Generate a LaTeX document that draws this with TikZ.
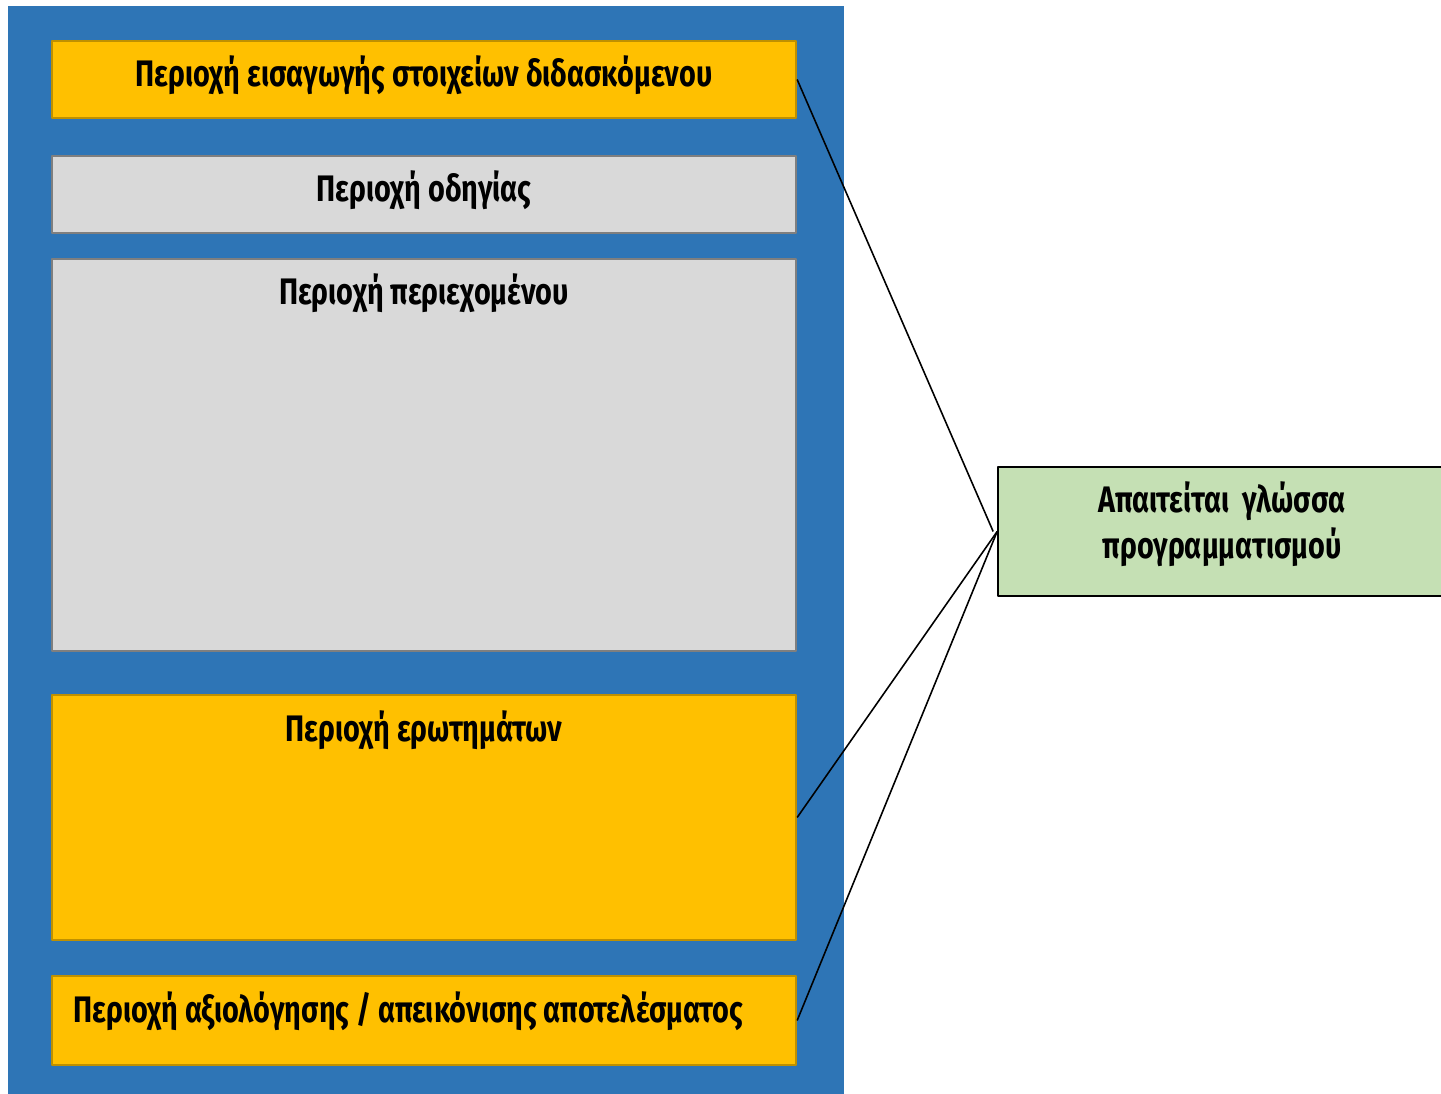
\documentclass[tikz,border=0pt]{standalone}
\usepackage{fontspec}
\setmainfont{Fira Sans}[FakeStretch=0.78]
\usetikzlibrary{positioning}
\definecolor{panelblue}{HTML}{2E75B6}
\definecolor{areayellow}{HTML}{FFC000}
\definecolor{areayellowline}{HTML}{BF9000}
\definecolor{areagrey}{HTML}{D9D9D9}
\definecolor{areagreyline}{HTML}{7F7F7F}
\definecolor{notegreen}{HTML}{C5E0B4}
\tikzset{
  areatext/.style={font=\bfseries\fontsize{21}{26}\selectfont,inner sep=0pt},
  areabox/.style={minimum width=14.88cm,inner sep=0pt,line width=1.4pt},
  yellowbox/.style={areabox,fill=areayellow,draw=areayellowline},
  greybox/.style={areabox,fill=areagrey,draw=areagreyline},
  notebox/.style={draw=black,fill=notegreen,line width=1pt,minimum width=8.96cm,minimum height=2.58cm,inner sep=0pt}
}
\begin{document}
\begin{tikzpicture}[x=0.02cm,y=-0.02cm,line join=round]
    \useasboundingbox (0,0) rectangle (1441,1094);
    % page panel
    \fill[panelblue] (8,6) rectangle (844,1094);
    % areas of the page
    \node[yellowbox,minimum height=1.54cm] (intro) at (424,79.5) {};
    \node[areatext] (introtext) at (424,75) {Περιοχή εισαγωγής στοιχείων διδασκόμενου};
    \node[greybox,minimum height=1.54cm] (guide) at (424,194.5) {};
    \node[areatext] (guidetext) at (424,190) {Περιοχή οδηγίας};
    \node[greybox,minimum height=7.84cm] (content) at (424,455) {};
    \node[areatext] (contenttext) at (424,293) {Περιοχή περιεχομένου};
    \node[yellowbox,minimum height=4.9cm] (questions) at (424,817.5) {};
    \node[areatext] (questionstext) at (424,730) {Περιοχή ερωτημάτων};
    \node[yellowbox,minimum height=1.78cm] (evaluation) at (424,1020.5) {};
    \node[areatext,anchor=west] (evaluationtext) at (73,1011) {Περιοχή αξιολόγησης / απεικόνισης αποτελέσματος};
    % note
    \node[notebox] (note) at (1222,531.5) {};
    \node[areatext,align=center] (notetext) at (1222,524) {Απαιτείται \ γλώσσα\\προγραμματισμού};
    \draw[line width=0.9pt] (intro.east) -- ([xshift=-0.08cm]note.west);
    \draw[line width=0.9pt] (questions.east) -- (note.west);
    \draw[line width=0.9pt] (evaluation.east) -- (note.west);
\end{tikzpicture}
\end{document}
